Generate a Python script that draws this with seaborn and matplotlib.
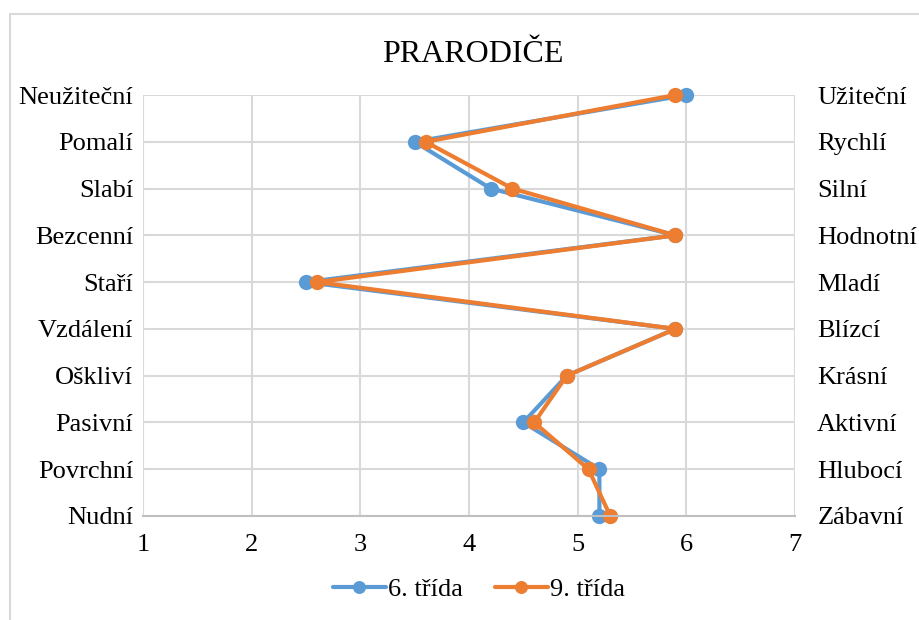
import numpy as np
import matplotlib
matplotlib.use("Agg")
import matplotlib.pyplot as plt
import pandas as pd
import seaborn as sns
from matplotlib.patches import Rectangle

left_labels = ["Neužiteční", "Pomalí", "Slabí", "Bezcenní", "Staří",
               "Vzdálení", "Oškliví", "Pasivní", "Povrchní", "Nudní"]
right_labels = ["Užiteční", "Rychlí", "Silní", "Hodnotní", "Mladí",
                "Blízcí", "Krásní", "Aktivní", "Hlubocí", "Zábavní"]
trida6 = [6.0, 3.5, 4.2, 5.9, 2.5, 5.9, 4.9, 4.5, 5.2, 5.2]
trida9 = [5.9, 3.6, 4.4, 5.9, 2.6, 5.9, 4.9, 4.6, 5.1, 5.3]
series = ["6. třída", "9. třída"]
x_ticks = [1, 2, 3, 4, 5, 6, 7]

sns.set_theme(style="white")
plt.rcParams["font.family"] = ["Liberation Serif", "DejaVu Serif"]
plt.rcParams["text.color"] = "black"
plt.rcParams["xtick.color"] = "black"
plt.rcParams["ytick.color"] = "black"

pos = np.arange(len(left_labels))
df = pd.DataFrame({
    "hodnota": trida6 + trida9,
    "pozice": list(pos) + list(pos),
    "trida": [series[0]] * len(pos) + [series[1]] * len(pos),
})

fig = plt.figure(figsize=(9.2, 6.2), dpi=100)
ax = fig.add_axes([143 / 920, 1 - 516 / 620, (795 - 143) / 920, (516 - 95) / 620])

sns.lineplot(data=df, x="hodnota", y="pozice", hue="trida", sort=False,
             estimator=None, palette=["#5B9BD5", "#ED7D31"], linewidth=3,
             marker="o", markersize=11, markeredgewidth=0, ax=ax)
for line in ax.lines:
    line.set_clip_on(False)

ax.set_xlim(1, 7)
ax.set_ylim(len(pos) - 1, 0)
ax.set_xticks(x_ticks)
ax.set_xticklabels([str(t) for t in x_ticks], fontsize=19)
ax.set_yticks(pos)
ax.set_yticklabels(left_labels, fontsize=19)
ax.grid(True, color="#D9D9D9", linewidth=1.5)
ax.set_axisbelow(True)
ax.tick_params(axis="x", length=0, pad=13)
ax.tick_params(axis="y", length=0, pad=7)
ax.set_xlabel("")
ax.set_ylabel("")
for s in ["top", "left", "right"]:
    ax.spines[s].set_visible(False)
ax.spines["bottom"].set_color("#BFBFBF")
ax.spines["bottom"].set_linewidth(1.5)

ax2 = ax.twinx()
ax2.set_ylim(len(pos) - 1, 0)
ax2.set_yticks(pos)
ax2.set_yticklabels(right_labels, fontsize=19)
ax2.tick_params(axis="y", length=0, pad=16)
for s in ax2.spines.values():
    s.set_visible(False)

handles, labels = ax.get_legend_handles_labels()
ax.legend(handles, labels, loc="center", bbox_to_anchor=(0.5 + 10 / 652, -0.175),
          ncol=2, frameon=False, fontsize=19, handlelength=2.0,
          handletextpad=0.1, columnspacing=1.2, markerscale=0.85)

fig.text(473 / 920, 1 - 55 / 620, "PRARODIČE", ha="center", va="center", fontsize=23)

fig.patches.append(Rectangle((10 / 920, -0.1), 1.2, 1 - 14 / 620 + 0.1,
                             transform=fig.transFigure, fill=False,
                             edgecolor="#D9D9D9", linewidth=1.5))

fig.savefig("out.png", dpi=100)
